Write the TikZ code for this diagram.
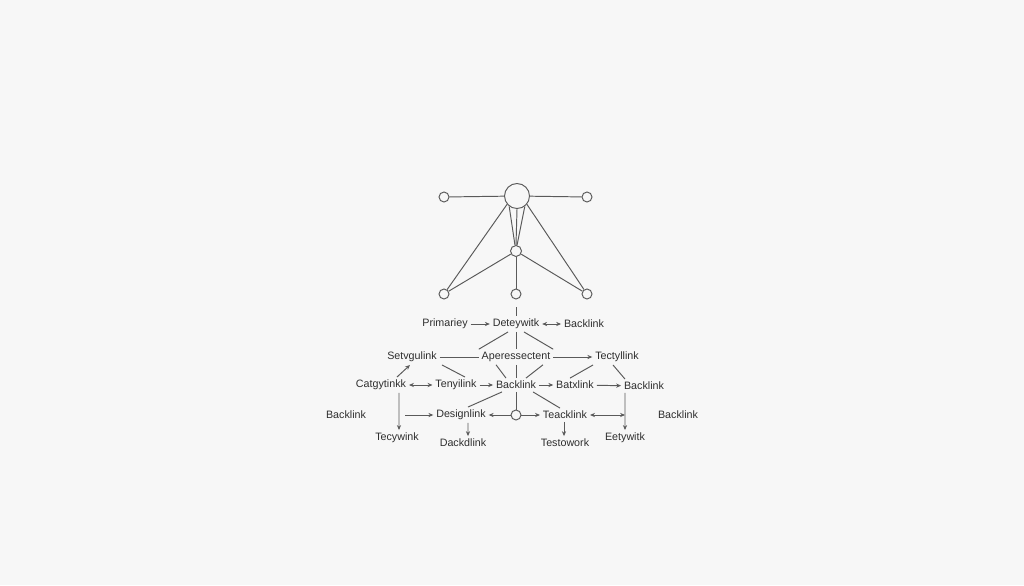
\documentclass[tikz,border=0pt]{standalone}
\usepackage{fontspec}
\setmainfont{Liberation Sans}
\usetikzlibrary{arrows.meta}
\definecolor{paper}{HTML}{F7F7F7}
\definecolor{ink}{HTML}{2E2E2E}
\definecolor{wire}{HTML}{5A5A5A}

\begin{document}
\begin{tikzpicture}[x=0.02cm,y=-0.02cm]
\tikzstyle{ring}=[circle,draw=wire,line width=0.55pt,fill=paper,inner sep=0pt,minimum size=0.2cm]
\tikzstyle{term}=[font=\fontsize{6.1}{7}\selectfont,text=ink,inner sep=1.5pt]
\tikzstyle{edge}=[draw=wire,line width=0.55pt]
\tikzstyle{arc}=[edge,-{Stealth[length=2.8pt,width=2.4pt]}]
\tikzstyle{both}=[edge,{Stealth[length=2.8pt,width=2.4pt]}-{Stealth[length=2.8pt,width=2.4pt]}]
\fill[paper] (0,0) rectangle (1024,585);
% star on top
\node[ring,minimum size=0.5cm] (hub) at (517,196) {};
\node[ring] (w) at (444,197) {};
\node[ring] (e) at (587,197) {};
\node[ring,minimum size=0.22cm] (mid) at (516,251) {};
\node[ring] (sw) at (444,294) {};
\node[ring] (s) at (516,294) {};
\node[ring] (se) at (587,294) {};
\path[edge] (w) -- (hub);
\path[edge] (hub) -- (e);
\path[edge] (hub.233) -- (mid.100);
\path[edge] (hub.south) -- (mid.north);
\path[edge] (hub.307) -- (mid.80);
\path[edge] (hub.220) -- (sw);
\path[edge] (hub.320) -- (se);
\path[edge] (mid) -- (sw);
\path[edge] (mid) -- (s);
\path[edge] (mid) -- (se);
% terms
\node[term] (prim) at (445,324) {Primariey};
\node[term] (date) at (516,324) {Deteywitk};
\node[term] (back) at (584,324) {Backlink};
\node[term] (serv) at (412,357) {Setvgulink};
\node[term] (aper) at (516,357) {Aperessectent};
\node[term] (tect) at (617,357) {Tectyllink};
\node[term] (cat) at (381,385) {Catgytinkk};
\node[term] (teny) at (456,385) {Tenyilink};
\node[term] (bkc) at (516,385) {Backlink};
\node[term] (batx) at (575,385) {Batxlink};
\node[term] (bkr) at (644,386) {Backlink};
\node[term] (bkl) at (346,415) {Backlink};
\node[term] (des) at (461,415) {Designlink};
\node[ring] (hole) at (516,415) {};
\node[term] (teac) at (565,415) {Teacklink};
\node[term] (bkf) at (678,415) {Backlink};
\node[term] (tecy) at (397,438) {Tecywink};
\node[term] (dack) at (463,443) {Dackdlink};
\node[term] (test) at (565,443) {Testowork};
\node[term] (eety) at (625,438) {Eetywitk};
\coordinate (tick) at (516,307);
\coordinate (from) at (405,415);
\coordinate (drop) at (625,415);
% connectors
\path[edge] (tick) -- (date);
\path[arc] (prim) -- (date);
\path[both] (date) -- (back);
\path[edge] ([xshift=-0.16cm]date.south) -- (aper.north west);
\path[edge] ([xshift=0.16cm]date.south) -- (aper.north east);
\path[edge] ([xshift=-0.4cm]aper.south) -- ([xshift=-0.2cm]bkc.north);
\path[edge] ([xshift=0.54cm]aper.south) -- ([xshift=0.2cm]bkc.north);
\path[edge] (date) -- (aper);
\path[edge] (aper) -- (bkc);
\path[edge] (bkc) -- (hole);
\path[edge] (serv) -- (aper);
\path[arc] (aper) -- (tect);
\path[arc] ([xshift=0.32cm]cat.north) -- ([xshift=-0.04cm]serv.south);
\path[edge] ([xshift=0.6cm]serv.south) -- ([xshift=0.18cm]teny.north);
\path[edge] ([xshift=-0.48cm]tect.south) -- ([xshift=-0.1cm]batx.north);
\path[edge] ([xshift=-0.08cm]tect.south) -- ([xshift=-0.38cm]bkr.north);
\path[both] (cat) -- (teny);
\path[arc] (teny) -- (bkc);
\path[arc] (bkc) -- (batx);
\path[arc] (batx) -- (bkr);
\path[edge] ([xshift=-0.28cm]bkc.south) -- ([xshift=0.14cm]des.north);
\path[edge] ([xshift=0.34cm]bkc.south) -- ([xshift=-0.1cm]teac.north);
\path[arc] (from) -- (des);
\path[arc] (hole) -- (des);
\path[arc] (hole) -- (teac);
\path[both] (teac) -- (drop);
\path[arc] ([xshift=0.36cm]cat.south) -- ([xshift=0.04cm]tecy.north);
\path[arc] ([xshift=-0.38cm]bkr.south) -- (eety.north);
\path[arc] ([xshift=0.14cm]des.south) -- ([xshift=0.1cm]dack.north);
\path[arc] ([xshift=-0.02cm]teac.south) -- ([xshift=-0.02cm]test.north);
\end{tikzpicture}
\end{document}
